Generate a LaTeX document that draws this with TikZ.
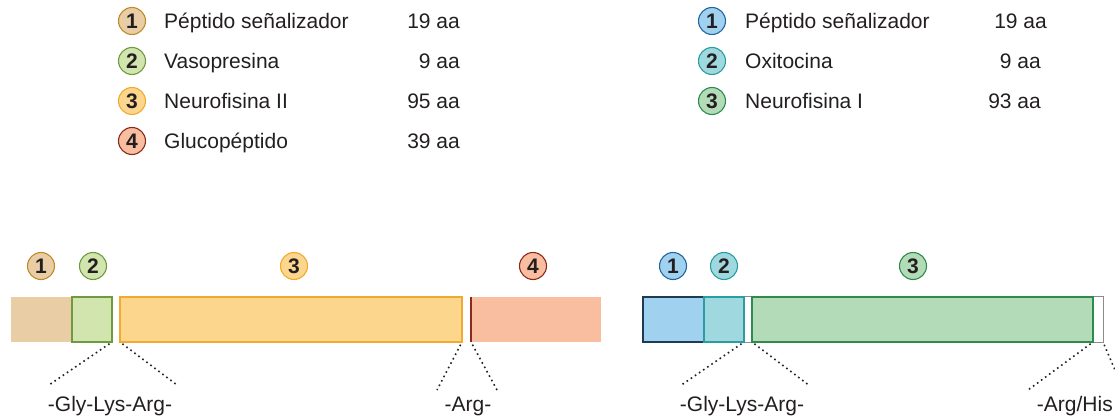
\documentclass[tikz,border=0pt]{standalone}
\usepackage{fontspec}
\setmainfont{Liberation Sans}
\usepackage{xcolor}
\usetikzlibrary{positioning}

\definecolor{txt}{HTML}{231F20}
\definecolor{tanF}{HTML}{E9CDA4}  \definecolor{tanD}{HTML}{C08A2A}
\definecolor{lgrF}{HTML}{D3E5AE}  \definecolor{lgrD}{HTML}{6E9A40}
\definecolor{yelF}{HTML}{FDD68E}  \definecolor{yelD}{HTML}{F0AA30}
\definecolor{salF}{HTML}{F9BDA0}  \definecolor{salD}{HTML}{8B2A1A}
\definecolor{bluF}{HTML}{A0D1EF}  \definecolor{bluD}{HTML}{2266A0}
\definecolor{navD}{HTML}{1F3A55}
\definecolor{teaF}{HTML}{A0D8DF}  \definecolor{teaD}{HTML}{2A9DA0}
\definecolor{grnF}{HTML}{B3DBB8}  \definecolor{grnD}{HTML}{2E8B4E}

\begin{document}
\begin{tikzpicture}[x=1pt, y=-1pt,
  num/.style={circle, draw, line width=1.1pt, minimum size=27pt, inner sep=0pt,
              font=\fontsize{21}{21}\selectfont\bfseries, text=txt},
  item/.style={anchor=base west, inner sep=0pt, font=\fontsize{21}{25}\selectfont, text=txt},
  len/.style={anchor=base east, inner sep=0pt, font=\fontsize{21}{25}\selectfont, text=txt},
  seg/.style={rectangle, inner sep=0pt, outer sep=0pt, minimum height=45pt, line width=1.1pt},
  cut/.style={dash pattern=on 1.6pt off 3.4pt, line width=1.6pt, txt, shorten <=3pt},
  site/.style={anchor=base, inner sep=0pt, font=\fontsize{21}{25}\selectfont, text=txt}
]
  \useasboundingbox (0,0) rectangle (1115,419);

  % leyenda: vasopresina
  \node[num, fill=tanF, draw=tanD] (la1) at (132,21)  {1};
  \node[num, fill=lgrF, draw=lgrD] (la2) at (132,61)  {2};
  \node[num, fill=yelF, draw=yelD] (la3) at (132,101) {3};
  \node[num, fill=salF, draw=salD] (la4) at (132,141) {4};
  \node[item] (lt1) at (164,29)  {Péptido señalizador};
  \node[item] (lt2) at (164,69)  {Vasopresina};
  \node[item] (lt3) at (164,109) {Neurofisina II};
  \node[item] (lt4) at (164,149) {Glucopéptido};
  \node[len] (ll1) at (460,29)  {19 aa};
  \node[len] (ll2) at (460,69)  {9 aa};
  \node[len] (ll3) at (460,109) {95 aa};
  \node[len] (ll4) at (460,149) {39 aa};

  % leyenda: oxitocina
  \node[num, fill=bluF, draw=bluD] (ra1) at (712,21)  {1};
  \node[num, fill=teaF, draw=teaD] (ra2) at (712,61)  {2};
  \node[num, fill=grnF, draw=grnD] (ra3) at (712,101) {3};
  \node[item] (rt1) at (745,29)  {Péptido señalizador};
  \node[item] (rt2) at (745,69)  {Oxitocina};
  \node[item] (rt3) at (745,109) {Neurofisina I};
  \node[len] (rl1) at (1047,29)  {19 aa};
  \node[len] (rl2) at (1041,69)  {9 aa};
  \node[len] (rl3) at (1041,109) {93 aa};

  % precursor de vasopresina
  \node[seg, fill=tanF, minimum width=61pt]              (sp1) at (41.5,319.5) {};
  \node[seg, fill=lgrF, draw=lgrD, minimum width=40pt]   (vp)  at (92,319.5)   {};
  \node[seg, fill=yelF, draw=yelD, minimum width=342pt]  (nf2) at (291,319.5)  {};
  \node[seg, fill=salF, minimum width=130pt]             (gp)  at (536,319.5)  {};
  \draw[salD, line width=1.3pt] (gp.north west) -- (gp.south west);

  \node[num, fill=tanF, draw=tanD] (b1) at (41,266)  {1};
  \node[num, fill=lgrF, draw=lgrD] (b2) at (93,266)  {2};
  \node[num, fill=yelF, draw=yelD] (b3) at (294,266) {3};
  \node[num, fill=salF, draw=salD] (b4) at (533,266) {4};

  % precursor de oxitocina
  \node[seg, fill=white, draw=black!45, line width=1pt, minimum width=460pt] (prec) at (873,319.5) {};
  \node[seg, fill=bluF, draw=navD, line width=1.6pt, minimum width=61pt] (sp2) at (673.5,319.5) {};
  \node[seg, fill=teaF, draw=teaD, minimum width=40pt]  (ox)  at (724,319.5)   {};
  \node[seg, fill=grnF, draw=grnD, minimum width=341pt] (nf1) at (922.5,319.5) {};

  \node[num, fill=bluF, draw=bluD] (c1) at (673,266) {1};
  \node[num, fill=teaF, draw=teaD] (c2) at (724,266) {2};
  \node[num, fill=grnF, draw=grnD] (c3) at (913,266) {3};

  % sitios de corte
  \coordinate (g1a) at (49,385);   \coordinate (g1b) at (177,385);
  \coordinate (a1a) at (437,390);  \coordinate (a1b) at (497,390);
  \coordinate (g2a) at (680,386);  \coordinate (g2b) at (810,386);
  \coordinate (a2a) at (1028,390); \coordinate (a2b) at (1115,370);

  \draw[cut] (vp.south east)   -- (g1a);
  \draw[cut] (nf2.south west)  -- (g1b);
  \draw[cut] (nf2.south east)  -- (a1a);
  \draw[cut] (gp.south west)   -- (a1b);
  \draw[cut] (ox.south east)   -- (g2a);
  \draw[cut] (nf1.south west)  -- (g2b);
  \draw[cut] (nf1.south east)  -- (a2a);
  \draw[cut] (prec.south east) -- (a2b);

  \node[site] (s1) at (110,411) {-Gly-Lys-Arg-};
  \node[site] (s2) at (468,411) {-Arg-};
  \node[site] (s3) at (742,411) {-Gly-Lys-Arg-};
  \node[site, anchor=base east] (s4) at (1113,411) {-Arg/His};
\end{tikzpicture}
\end{document}
